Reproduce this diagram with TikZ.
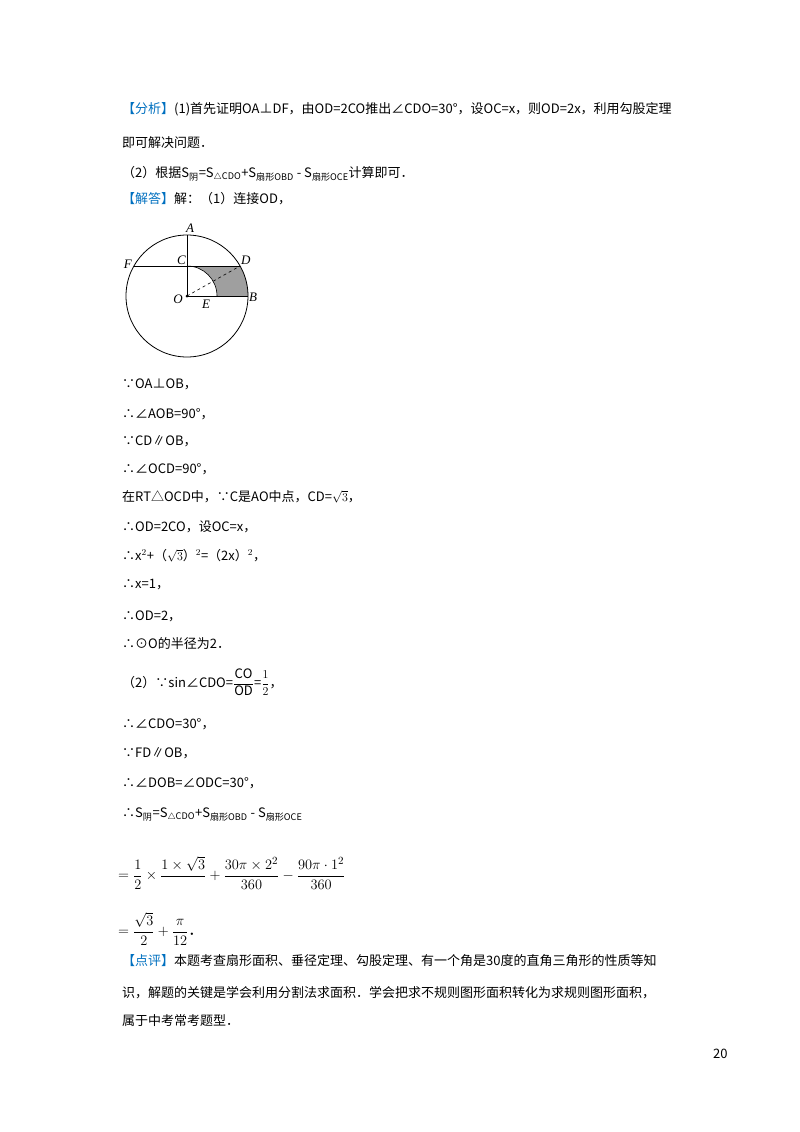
\documentclass[tikz,border=0pt]{standalone}
\usepackage{amsmath}
\usepackage{fontspec}
\setmainfont{Noto Sans CJK SC}
\newfontfamily\figfont{Liberation Serif}
\definecolor{hb}{HTML}{0070C0}
\begin{document}
\begin{tikzpicture}[x=1pt,y=-1pt,t/.style={anchor=base west,inner sep=0pt,font=\fontsize{13}{15}\selectfont},fm/.style={anchor=west,inner sep=0pt,font=\fontsize{15}{17}\selectfont},lbl/.style={font=\figfont\itshape\fontsize{13}{14}\selectfont,inner sep=1pt}]
\useasboundingbox (0,0) rectangle (800,1132);
\fill[white] (0,0) rectangle (800,1132);
\node[t] (l1) at (122,113) {{\color{hb}【分析】}(1)首先证明OA⊥DF，由OD=2CO推出∠CDO=30°，设OC=x，则OD=2x，利用勾股定理};
\node[t] (l2) at (122,147) {即可解决问题．};
\node[t] (l3) at (122,177) {（2）根据S$_{\text{阴}}$=S$_{\triangle\text{CDO}}$+S$_{\text{扇形OBD}}$ - S$_{\text{扇形OCE}}$计算即可．};
\node[t] (l4) at (122,203) {{\color{hb}【解答】}解：（1）连接OD，};
% figure
\coordinate (O) at (187,296);
\coordinate (A) at (187,235);
\coordinate (C) at (187,266);
\coordinate (D) at (240,266);
\coordinate (B) at (248,296);
\coordinate (F) at (134,266);
\coordinate (E) at (217,296);
\fill[gray!75] (C) -- (D) arc[start angle=-30,end angle=0,radius=61] -- (E) arc[start angle=0,end angle=-90,radius=30] -- cycle;
\draw[line width=0.8pt] (O) circle[radius=61];
\draw[line width=0.8pt] (A) -- (O) -- (B);
\draw[line width=0.8pt] (F) -- (D);
\draw[line width=0.6pt] (E) arc[start angle=0,end angle=-90,radius=30];
\draw[dashed,line width=0.6pt] (O) -- (D);
\fill (O) circle[radius=1.5];
\node[lbl,above] at (190,234) (la) {A};
\node[lbl,above left] at (187,266) (lc) {C};
\node[lbl,above right] at (240,266) (ld) {D};
\node[lbl,right] at (248,297) (lb) {B};
\node[lbl,left] at (133,264) (lf) {F};
\node[lbl,left] at (184,299) (lo) {O};
\node[lbl,below] at (206,299) (le) {E};
\node[t] (m1) at (122,388) {∵OA⊥OB，};
\node[t] (m2) at (122,418) {∴∠AOB=90°，};
\node[t] (m3) at (122,445) {∵CD∥OB，};
\node[t] (m4) at (122,473) {∴∠OCD=90°，};
\node[t] (m5) at (122,501) {在RT△OCD中，∵C是AO中点，CD=$\sqrt{3}$，};
\node[t] (m6) at (122,531) {∴OD=2CO，设OC=x，};
\node[t] (m7) at (122,560) {∴x$^2$+（$\sqrt{3}$）$^2$=（2x）$^2$，};
\node[t] (m8) at (122,588) {∴x=1，};
\node[t] (m9) at (122,620) {∴OD=2，};
\node[t] (m10) at (122,648) {∴⊙O的半径为2．};
\node[t] (n1) at (122,687) {（2）∵sin∠CDO=$\dfrac{\mathrm{CO}}{\mathrm{OD}}$=$\dfrac{1}{2}$，};
\node[t] (n2) at (122,728) {∴∠CDO=30°，};
\node[t] (n3) at (122,757) {∵FD∥OB，};
\node[t] (n4) at (122,787) {∴∠DOB=∠ODC=30°，};
\node[t] (n5) at (122,817) {∴S$_{\text{阴}}$=S$_{\triangle\text{CDO}}$+S$_{\text{扇形OBD}}$ - S$_{\text{扇形OCE}}$};
\node[fm] (n6) at (118,873) {$=\dfrac{1}{2}\times\dfrac{1\times\sqrt{3}}{\vphantom{1}}+\dfrac{30\pi\times2^2}{360}-\dfrac{90\pi\cdot1^2}{360}$};
\node[fm] (n7) at (118,929) {$=\dfrac{\sqrt{3}}{2}+\dfrac{\pi}{12}$．};
\node[t] (p1) at (122,965) {{\color{hb}【点评】}本题考查扇形面积、垂径定理、勾股定理、有一个角是30度的直角三角形的性质等知};
\node[t] (p2) at (122,997) {识，解题的关键是学会利用分割法求面积．学会把求不规则图形面积转化为求规则图形面积，};
\node[t] (p3) at (122,1025) {属于中考常考题型．};
\node[t] (pg) at (713,1058) {20};
\end{tikzpicture}
\end{document}
